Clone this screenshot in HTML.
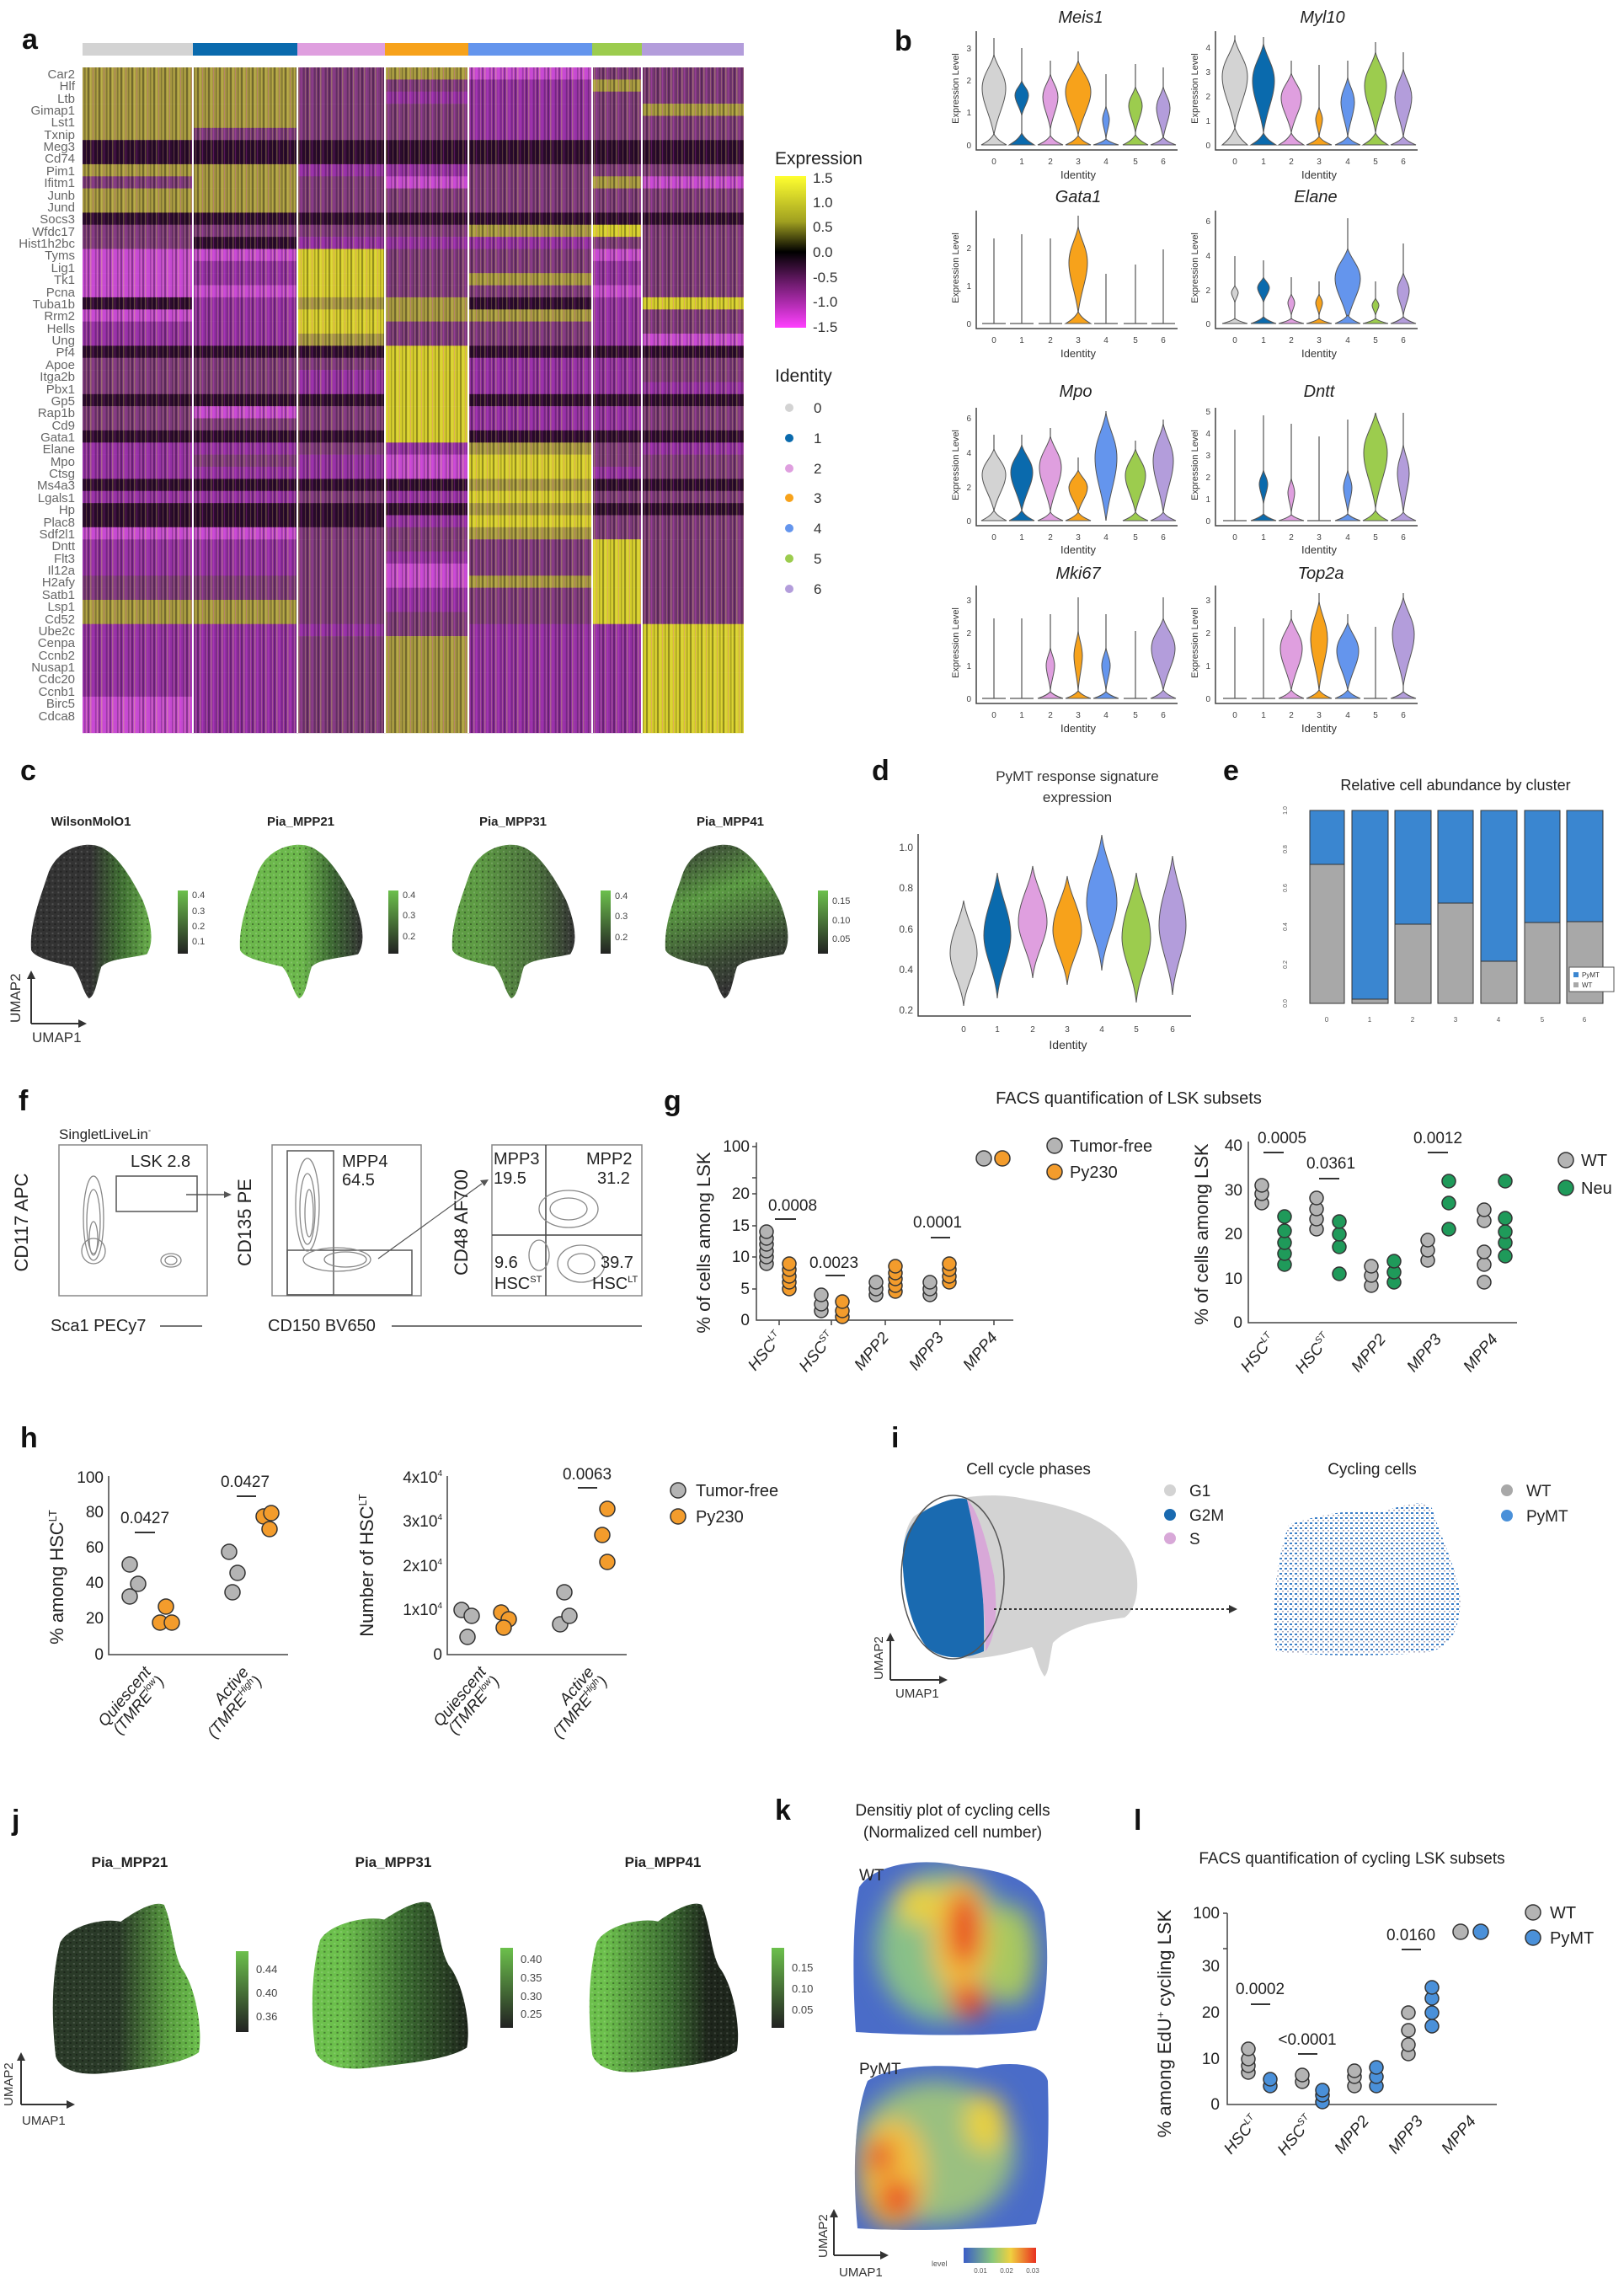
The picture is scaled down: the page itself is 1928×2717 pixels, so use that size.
<!DOCTYPE html>
<html><head><meta charset="utf-8">
<style>
html,body{margin:0;padding:0;background:#fff;}
svg{display:block;font-family:"Liberation Sans",sans-serif;}
.hm rect{height:14.6px}
.c0{x:98px;width:131px}.c1{x:229px;width:124px}.c2{x:353px;width:104px}.c3{x:457px;width:99px}.c4{x:556px;width:147px}.c5{x:703px;width:59px}.c6{x:762px;width:121px}
.Y{fill:#d4cc2c}.y{fill:#a49640}.m{fill:#7c3a7a}.p{fill:#9230a2}.P{fill:#c44ad0}.d{fill:#2e0c30}
.gl{font-size:15px;fill:#666;text-anchor:end}
.tk{font-size:10px;fill:#444}
.ax{stroke:#444;stroke-width:1.5;fill:none}
.v line{stroke:#555;stroke-width:1.2}
.lab{font-size:34px;font-weight:bold;fill:#111}
.nar{font-family:"Liberation Sans Narrow","Liberation Sans",sans-serif}
.g{fill:#b4b4b4;stroke:#333;stroke-width:1.5}
.o{fill:#f39c2c;stroke:#333;stroke-width:1.5}
.gr{fill:#1f9a5a;stroke:#333;stroke-width:1.5}
.bl{fill:#4a90d9;stroke:#333;stroke-width:1.5}
.ct{fill:none;stroke:#888;stroke-width:1.3}
</style></head><body>
<svg width="1928" height="2717" viewBox="0 0 1928 2717" xmlns="http://www.w3.org/2000/svg">
<defs>
<pattern id="stripe" width="13" height="20" patternUnits="userSpaceOnUse">
<rect x="0" y="0" width="2" height="20" fill="#000" opacity="0.3"/>
<rect x="3" y="0" width="1.5" height="20" fill="#ffff60" opacity="0.25"/>
<rect x="6" y="0" width="1" height="20" fill="#ff40ff" opacity="0.2"/>
<rect x="9" y="0" width="1.5" height="20" fill="#000" opacity="0.2"/>
<rect x="11" y="0" width="1" height="20" fill="#ffff60" opacity="0.18"/>
</pattern>
<linearGradient id="expg" x1="0" y1="0" x2="0" y2="1">
<stop offset="0" stop-color="#ffff30"/><stop offset="0.3" stop-color="#a0a020"/><stop offset="0.5" stop-color="#000"/><stop offset="0.7" stop-color="#6a1a6a"/><stop offset="1" stop-color="#ff40ff"/>
</linearGradient>
<linearGradient id="grbar" x1="0" y1="1" x2="0" y2="0"><stop offset="0" stop-color="#222"/><stop offset="1" stop-color="#6cc04c"/></linearGradient>
<path id="bb" stroke="#555" stroke-width="1" vector-effect="non-scaling-stroke" d="M-1,0 C-0.6,-0.25 -0.25,-0.5 0,-1 C0.25,-0.5 0.6,-0.25 1,0Z"/>
<path id="lens" stroke="#555" stroke-width="1" vector-effect="non-scaling-stroke" d="M0,0 C-0.3,-0.25 -1,-0.4 -1,-0.58 C-1,-0.75 -0.25,-0.85 0,-1 C0.25,-0.85 1,-0.75 1,-0.58 C1,-0.4 0.3,-0.25 0,0Z"/>
<path id="dv" stroke="#555" stroke-width="1" vector-effect="non-scaling-stroke" d="M0,0 C-0.15,-0.2 -1,-0.35 -1,-0.5 C-1,-0.68 -0.2,-0.82 0,-1 C0.2,-0.82 1,-0.68 1,-0.5 C1,-0.35 0.15,-0.2 0,0Z"/>
<path id="leaf" d="M20,40 C30,10 60,0 80,5 C100,10 120,40 135,70 C145,95 150,120 140,135 C120,140 95,140 85,150 C80,165 78,185 70,188 C62,180 60,160 50,150 C30,145 5,140 0,130 C-2,100 10,70 20,40Z"/>
<path id="sq" d="M10,50 C20,30 60,20 80,25 C100,10 120,0 130,5 C140,30 140,60 150,80 C165,100 175,150 170,180 C150,195 100,200 60,205 C30,208 10,200 5,185 C0,140 0,90 10,50Z"/>
<linearGradient id="c1g" x1="0" x2="1"><stop offset="0.5" stop-color="#333"/><stop offset="0.75" stop-color="#3f6e32"/><stop offset="1" stop-color="#6ab04c"/></linearGradient>
<linearGradient id="c2g" x1="0" x2="1"><stop offset="0.5" stop-color="#6cb84c"/><stop offset="0.75" stop-color="#3e6a34"/><stop offset="1" stop-color="#333"/></linearGradient>
<linearGradient id="c3g" x1="0" x2="1"><stop offset="0.2" stop-color="#5e9c44"/><stop offset="0.7" stop-color="#4a6e3c"/><stop offset="1" stop-color="#333"/></linearGradient>
<linearGradient id="c4g" x1="0" y1="0" x2="0.3" y2="1"><stop offset="0" stop-color="#333"/><stop offset="0.4" stop-color="#5a9a42"/><stop offset="0.8" stop-color="#3a4a34"/><stop offset="1" stop-color="#333"/></linearGradient>
<linearGradient id="j1g" x1="0" x2="1"><stop offset="0.45" stop-color="#2a3a28"/><stop offset="0.8" stop-color="#5aa040"/><stop offset="1" stop-color="#6cc04c"/></linearGradient>
<linearGradient id="j2g" x1="0" x2="1"><stop offset="0.2" stop-color="#6cc04c"/><stop offset="0.6" stop-color="#3a6a30"/><stop offset="1" stop-color="#1e261c"/></linearGradient>
<linearGradient id="j3g" x1="0" x2="1"><stop offset="0.1" stop-color="#6cc04c"/><stop offset="0.55" stop-color="#3a6a30"/><stop offset="0.8" stop-color="#1e261c"/></linearGradient>
<pattern id="speck" width="7" height="7" patternUnits="userSpaceOnUse"><rect width="2" height="2" fill="#000" opacity="0.35"/><rect x="4" y="4" width="2" height="2" fill="#fff" opacity="0.15"/></pattern>
<pattern id="bdots" width="6" height="6" patternUnits="userSpaceOnUse"><rect x="1" y="1" width="3" height="2" fill="#3a7ec8"/><rect x="4" y="4" width="2" height="1.5" fill="#aab"/></pattern>
<linearGradient id="lvg" x1="0" x2="1"><stop offset="0" stop-color="#3a5cc8"/><stop offset="0.4" stop-color="#8ac87a"/><stop offset="0.65" stop-color="#f0d040"/><stop offset="1" stop-color="#e83020"/></linearGradient>
<filter id="blur" x="-0.3" y="-0.3" width="1.6" height="1.6"><feGaussianBlur stdDeviation="14"/></filter>
<clipPath id="kwt"><path d="M1020,2240 C1040,2210 1100,2205 1140,2215 C1190,2220 1230,2230 1240,2270 C1246,2320 1244,2380 1230,2410 C1180,2418 1080,2416 1016,2412 C1012,2350 1012,2280 1020,2240Z"/></clipPath>
<clipPath id="kpy"><path d="M1030,2470 C1060,2450 1120,2450 1160,2455 C1200,2445 1240,2450 1244,2470 C1246,2540 1244,2600 1230,2640 C1150,2648 1060,2648 1018,2645 C1012,2580 1014,2510 1030,2470Z"/></clipPath>
</defs>

<!-- ===== a ===== -->
<text class="lab" x="26" y="58">a</text>
<rect x="98" y="51" width="131" height="15" fill="#d3d3d3"/>
<rect x="229" y="51" width="124" height="15" fill="#0a6aad"/>
<rect x="353" y="51" width="104" height="15" fill="#df9fdf"/>
<rect x="457" y="51" width="99" height="15" fill="#f7a21b"/>
<rect x="556" y="51" width="147" height="15" fill="#6495ed"/>
<rect x="703" y="51" width="59" height="15" fill="#9ccc4e"/>
<rect x="762" y="51" width="121" height="15" fill="#b39ddb"/>
<g class="hm">
<g transform="translate(0,80)"><rect class="c0 y"/><rect class="c1 y"/><rect class="c2 m"/><rect class="c3 y"/><rect class="c4 P"/><rect class="c5 m"/><rect class="c6 m"/></g>
<g transform="translate(0,94.4)"><rect class="c0 y"/><rect class="c1 y"/><rect class="c2 m"/><rect class="c3 m"/><rect class="c4 p"/><rect class="c5 y"/><rect class="c6 m"/></g>
<g transform="translate(0,108.7)"><rect class="c0 y"/><rect class="c1 y"/><rect class="c2 m"/><rect class="c3 p"/><rect class="c4 p"/><rect class="c5 m"/><rect class="c6 m"/></g>
<g transform="translate(0,123.1)"><rect class="c0 y"/><rect class="c1 y"/><rect class="c2 m"/><rect class="c3 m"/><rect class="c4 p"/><rect class="c5 m"/><rect class="c6 y"/></g>
<g transform="translate(0,137.5)"><rect class="c0 y"/><rect class="c1 y"/><rect class="c2 m"/><rect class="c3 m"/><rect class="c4 p"/><rect class="c5 m"/><rect class="c6 m"/></g>
<g transform="translate(0,151.8)"><rect class="c0 y"/><rect class="c1 m"/><rect class="c2 m"/><rect class="c3 m"/><rect class="c4 p"/><rect class="c5 m"/><rect class="c6 m"/></g>
<g transform="translate(0,166.2)"><rect class="c0 d"/><rect class="c1 d"/><rect class="c2 d"/><rect class="c3 d"/><rect class="c4 d"/><rect class="c5 d"/><rect class="c6 d"/></g>
<g transform="translate(0,180.5)"><rect class="c0 d"/><rect class="c1 d"/><rect class="c2 d"/><rect class="c3 d"/><rect class="c4 d"/><rect class="c5 d"/><rect class="c6 d"/></g>
<g transform="translate(0,194.9)"><rect class="c0 y"/><rect class="c1 y"/><rect class="c2 p"/><rect class="c3 p"/><rect class="c4 m"/><rect class="c5 m"/><rect class="c6 m"/></g>
<g transform="translate(0,209.3)"><rect class="c0 m"/><rect class="c1 y"/><rect class="c2 m"/><rect class="c3 P"/><rect class="c4 m"/><rect class="c5 y"/><rect class="c6 P"/></g>
<g transform="translate(0,223.6)"><rect class="c0 y"/><rect class="c1 y"/><rect class="c2 m"/><rect class="c3 m"/><rect class="c4 m"/><rect class="c5 m"/><rect class="c6 m"/></g>
<g transform="translate(0,238)"><rect class="c0 y"/><rect class="c1 y"/><rect class="c2 m"/><rect class="c3 m"/><rect class="c4 m"/><rect class="c5 m"/><rect class="c6 m"/></g>
<g transform="translate(0,252.4)"><rect class="c0 d"/><rect class="c1 d"/><rect class="c2 d"/><rect class="c3 d"/><rect class="c4 d"/><rect class="c5 d"/><rect class="c6 d"/></g>
<g transform="translate(0,266.7)"><rect class="c0 m"/><rect class="c1 m"/><rect class="c2 m"/><rect class="c3 m"/><rect class="c4 y"/><rect class="c5 Y"/><rect class="c6 m"/></g>
<g transform="translate(0,281.1)"><rect class="c0 m"/><rect class="c1 d"/><rect class="c2 p"/><rect class="c3 p"/><rect class="c4 p"/><rect class="c5 m"/><rect class="c6 m"/></g>
<g transform="translate(0,295.5)"><rect class="c0 P"/><rect class="c1 P"/><rect class="c2 Y"/><rect class="c3 m"/><rect class="c4 m"/><rect class="c5 P"/><rect class="c6 m"/></g>
<g transform="translate(0,309.8)"><rect class="c0 P"/><rect class="c1 p"/><rect class="c2 Y"/><rect class="c3 m"/><rect class="c4 m"/><rect class="c5 p"/><rect class="c6 m"/></g>
<g transform="translate(0,324.2)"><rect class="c0 P"/><rect class="c1 p"/><rect class="c2 Y"/><rect class="c3 m"/><rect class="c4 y"/><rect class="c5 p"/><rect class="c6 m"/></g>
<g transform="translate(0,338.6)"><rect class="c0 P"/><rect class="c1 P"/><rect class="c2 Y"/><rect class="c3 m"/><rect class="c4 m"/><rect class="c5 P"/><rect class="c6 m"/></g>
<g transform="translate(0,352.9)"><rect class="c0 d"/><rect class="c1 p"/><rect class="c2 y"/><rect class="c3 y"/><rect class="c4 d"/><rect class="c5 p"/><rect class="c6 Y"/></g>
<g transform="translate(0,367.3)"><rect class="c0 P"/><rect class="c1 p"/><rect class="c2 Y"/><rect class="c3 y"/><rect class="c4 y"/><rect class="c5 p"/><rect class="c6 m"/></g>
<g transform="translate(0,381.6)"><rect class="c0 p"/><rect class="c1 p"/><rect class="c2 Y"/><rect class="c3 m"/><rect class="c4 m"/><rect class="c5 p"/><rect class="c6 m"/></g>
<g transform="translate(0,396)"><rect class="c0 p"/><rect class="c1 p"/><rect class="c2 y"/><rect class="c3 m"/><rect class="c4 m"/><rect class="c5 p"/><rect class="c6 P"/></g>
<g transform="translate(0,410.4)"><rect class="c0 d"/><rect class="c1 d"/><rect class="c2 d"/><rect class="c3 Y"/><rect class="c4 d"/><rect class="c5 d"/><rect class="c6 d"/></g>
<g transform="translate(0,424.7)"><rect class="c0 m"/><rect class="c1 m"/><rect class="c2 m"/><rect class="c3 Y"/><rect class="c4 p"/><rect class="c5 p"/><rect class="c6 m"/></g>
<g transform="translate(0,439.1)"><rect class="c0 m"/><rect class="c1 m"/><rect class="c2 p"/><rect class="c3 Y"/><rect class="c4 p"/><rect class="c5 p"/><rect class="c6 m"/></g>
<g transform="translate(0,453.5)"><rect class="c0 m"/><rect class="c1 m"/><rect class="c2 p"/><rect class="c3 Y"/><rect class="c4 p"/><rect class="c5 p"/><rect class="c6 p"/></g>
<g transform="translate(0,467.8)"><rect class="c0 d"/><rect class="c1 d"/><rect class="c2 d"/><rect class="c3 Y"/><rect class="c4 d"/><rect class="c5 d"/><rect class="c6 d"/></g>
<g transform="translate(0,482.2)"><rect class="c0 m"/><rect class="c1 P"/><rect class="c2 m"/><rect class="c3 Y"/><rect class="c4 p"/><rect class="c5 p"/><rect class="c6 m"/></g>
<g transform="translate(0,496.5)"><rect class="c0 m"/><rect class="c1 m"/><rect class="c2 m"/><rect class="c3 Y"/><rect class="c4 p"/><rect class="c5 p"/><rect class="c6 m"/></g>
<g transform="translate(0,510.9)"><rect class="c0 d"/><rect class="c1 d"/><rect class="c2 d"/><rect class="c3 Y"/><rect class="c4 d"/><rect class="c5 d"/><rect class="c6 d"/></g>
<g transform="translate(0,525.3)"><rect class="c0 p"/><rect class="c1 p"/><rect class="c2 m"/><rect class="c3 p"/><rect class="c4 y"/><rect class="c5 m"/><rect class="c6 p"/></g>
<g transform="translate(0,539.6)"><rect class="c0 p"/><rect class="c1 m"/><rect class="c2 p"/><rect class="c3 P"/><rect class="c4 Y"/><rect class="c5 m"/><rect class="c6 m"/></g>
<g transform="translate(0,554)"><rect class="c0 p"/><rect class="c1 p"/><rect class="c2 p"/><rect class="c3 P"/><rect class="c4 Y"/><rect class="c5 p"/><rect class="c6 m"/></g>
<g transform="translate(0,568.4)"><rect class="c0 d"/><rect class="c1 d"/><rect class="c2 d"/><rect class="c3 d"/><rect class="c4 y"/><rect class="c5 d"/><rect class="c6 d"/></g>
<g transform="translate(0,582.7)"><rect class="c0 p"/><rect class="c1 p"/><rect class="c2 m"/><rect class="c3 p"/><rect class="c4 Y"/><rect class="c5 m"/><rect class="c6 m"/></g>
<g transform="translate(0,597.1)"><rect class="c0 d"/><rect class="c1 d"/><rect class="c2 d"/><rect class="c3 d"/><rect class="c4 y"/><rect class="c5 d"/><rect class="c6 d"/></g>
<g transform="translate(0,611.5)"><rect class="c0 d"/><rect class="c1 d"/><rect class="c2 d"/><rect class="c3 p"/><rect class="c4 Y"/><rect class="c5 m"/><rect class="c6 m"/></g>
<g transform="translate(0,625.8)"><rect class="c0 P"/><rect class="c1 P"/><rect class="c2 m"/><rect class="c3 m"/><rect class="c4 y"/><rect class="c5 m"/><rect class="c6 m"/></g>
<g transform="translate(0,640.2)"><rect class="c0 p"/><rect class="c1 p"/><rect class="c2 m"/><rect class="c3 m"/><rect class="c4 m"/><rect class="c5 Y"/><rect class="c6 m"/></g>
<g transform="translate(0,654.5)"><rect class="c0 p"/><rect class="c1 p"/><rect class="c2 m"/><rect class="c3 p"/><rect class="c4 m"/><rect class="c5 Y"/><rect class="c6 m"/></g>
<g transform="translate(0,668.9)"><rect class="c0 p"/><rect class="c1 p"/><rect class="c2 m"/><rect class="c3 P"/><rect class="c4 m"/><rect class="c5 Y"/><rect class="c6 m"/></g>
<g transform="translate(0,683.3)"><rect class="c0 m"/><rect class="c1 m"/><rect class="c2 m"/><rect class="c3 P"/><rect class="c4 y"/><rect class="c5 Y"/><rect class="c6 m"/></g>
<g transform="translate(0,697.6)"><rect class="c0 m"/><rect class="c1 m"/><rect class="c2 m"/><rect class="c3 p"/><rect class="c4 m"/><rect class="c5 Y"/><rect class="c6 m"/></g>
<g transform="translate(0,712)"><rect class="c0 y"/><rect class="c1 y"/><rect class="c2 m"/><rect class="c3 p"/><rect class="c4 m"/><rect class="c5 Y"/><rect class="c6 m"/></g>
<g transform="translate(0,726.4)"><rect class="c0 y"/><rect class="c1 y"/><rect class="c2 m"/><rect class="c3 m"/><rect class="c4 m"/><rect class="c5 Y"/><rect class="c6 m"/></g>
<g transform="translate(0,740.7)"><rect class="c0 p"/><rect class="c1 p"/><rect class="c2 p"/><rect class="c3 m"/><rect class="c4 p"/><rect class="c5 p"/><rect class="c6 Y"/></g>
<g transform="translate(0,755.1)"><rect class="c0 p"/><rect class="c1 p"/><rect class="c2 m"/><rect class="c3 y"/><rect class="c4 p"/><rect class="c5 p"/><rect class="c6 Y"/></g>
<g transform="translate(0,769.5)"><rect class="c0 p"/><rect class="c1 p"/><rect class="c2 m"/><rect class="c3 y"/><rect class="c4 p"/><rect class="c5 p"/><rect class="c6 Y"/></g>
<g transform="translate(0,783.8)"><rect class="c0 p"/><rect class="c1 p"/><rect class="c2 m"/><rect class="c3 y"/><rect class="c4 p"/><rect class="c5 p"/><rect class="c6 Y"/></g>
<g transform="translate(0,798.2)"><rect class="c0 p"/><rect class="c1 p"/><rect class="c2 m"/><rect class="c3 y"/><rect class="c4 p"/><rect class="c5 p"/><rect class="c6 Y"/></g>
<g transform="translate(0,812.5)"><rect class="c0 p"/><rect class="c1 p"/><rect class="c2 m"/><rect class="c3 y"/><rect class="c4 p"/><rect class="c5 p"/><rect class="c6 Y"/></g>
<g transform="translate(0,826.9)"><rect class="c0 P"/><rect class="c1 p"/><rect class="c2 m"/><rect class="c3 y"/><rect class="c4 p"/><rect class="c5 p"/><rect class="c6 Y"/></g>
<g transform="translate(0,841.3)"><rect class="c0 P"/><rect class="c1 p"/><rect class="c2 m"/><rect class="c3 y"/><rect class="c4 p"/><rect class="c5 p"/><rect class="c6 Y"/></g>
<g transform="translate(0,855.6)"><rect class="c0 P"/><rect class="c1 p"/><rect class="c2 m"/><rect class="c3 y"/><rect class="c4 p"/><rect class="c5 p"/><rect class="c6 Y"/></g>
</g>
<rect x="98" y="80" width="785" height="790" fill="url(#stripe)"/>
<g stroke="#fff" stroke-width="2"><line x1="229" y1="80" x2="229" y2="870"/><line x1="353" y1="80" x2="353" y2="870"/><line x1="457" y1="80" x2="457" y2="870"/><line x1="556" y1="80" x2="556" y2="870"/><line x1="703" y1="80" x2="703" y2="870"/><line x1="762" y1="80" x2="762" y2="870"/></g>
<g class="gl nar">
<text x="89" y="93">Car2</text><text x="89" y="107">Hlf</text><text x="89" y="122">Ltb</text><text x="89" y="136">Gimap1</text><text x="89" y="150">Lst1</text><text x="89" y="165">Txnip</text><text x="89" y="179">Meg3</text><text x="89" y="193">Cd74</text><text x="89" y="208">Pim1</text><text x="89" y="222">Ifitm1</text><text x="89" y="237">Junb</text><text x="89" y="251">Jund</text><text x="89" y="265">Socs3</text><text x="89" y="280">Wfdc17</text><text x="89" y="294">Hist1h2bc</text><text x="89" y="308">Tyms</text><text x="89" y="323">Lig1</text><text x="89" y="337">Tk1</text><text x="89" y="352">Pcna</text><text x="89" y="366">Tuba1b</text><text x="89" y="380">Rrm2</text><text x="89" y="395">Hells</text><text x="89" y="409">Ung</text><text x="89" y="423">Pf4</text><text x="89" y="438">Apoe</text><text x="89" y="452">Itga2b</text><text x="89" y="467">Pbx1</text><text x="89" y="481">Gp5</text><text x="89" y="495">Rap1b</text><text x="89" y="510">Cd9</text><text x="89" y="524">Gata1</text><text x="89" y="538">Elane</text><text x="89" y="553">Mpo</text><text x="89" y="567">Ctsg</text><text x="89" y="581">Ms4a3</text><text x="89" y="596">Lgals1</text><text x="89" y="610">Hp</text><text x="89" y="625">Plac8</text><text x="89" y="639">Sdf2l1</text><text x="89" y="653">Dntt</text><text x="89" y="668">Flt3</text><text x="89" y="682">Il12a</text><text x="89" y="696">H2afy</text><text x="89" y="711">Satb1</text><text x="89" y="725">Lsp1</text><text x="89" y="740">Cd52</text><text x="89" y="754">Ube2c</text><text x="89" y="768">Cenpa</text><text x="89" y="783">Ccnb2</text><text x="89" y="797">Nusap1</text><text x="89" y="811">Cdc20</text><text x="89" y="826">Ccnb1</text><text x="89" y="840">Birc5</text><text x="89" y="855">Cdca8</text>
</g>
<text x="920" y="195" font-size="21" fill="#222">Expression</text>
<rect x="920" y="209" width="37" height="180" fill="url(#expg)"/>
<g font-size="17" fill="#333"><text x="965" y="217">1.5</text><text x="965" y="246">1.0</text><text x="965" y="275">0.5</text><text x="965" y="305">0.0</text><text x="965" y="335">-0.5</text><text x="965" y="364">-1.0</text><text x="965" y="394">-1.5</text></g>
<text x="920" y="453" font-size="21" fill="#222">Identity</text>
<g><circle cx="937" cy="484" r="5" fill="#d3d3d3"/><circle cx="937" cy="520" r="5" fill="#0a6aad"/><circle cx="937" cy="556" r="5" fill="#df9fdf"/><circle cx="937" cy="591" r="5" fill="#f7a21b"/><circle cx="937" cy="627" r="5" fill="#6495ed"/><circle cx="937" cy="663" r="5" fill="#9ccc4e"/><circle cx="937" cy="699" r="5" fill="#b39ddb"/></g>
<g font-size="17" fill="#333"><text x="966" y="490">0</text><text x="966" y="526">1</text><text x="966" y="562">2</text><text x="966" y="597">3</text><text x="966" y="633">4</text><text x="966" y="669">5</text><text x="966" y="705">6</text></g>

<!-- ===== b ===== -->
<text class="lab" x="1062" y="60">b</text>
<g class="ax">
<path d="M1159,37 V178 H1398"/><path d="M1443,37 V178 H1683"/>
<path d="M1159,250 V390 H1398"/><path d="M1443,250 V390 H1683"/>
<path d="M1159,484 V624 H1398"/><path d="M1443,484 V624 H1683"/>
<path d="M1159,695 V835 H1398"/><path d="M1443,695 V835 H1683"/>
</g>
<g font-size="20" font-style="italic" fill="#222" text-anchor="middle">
<text x="1283" y="27">Meis1</text><text x="1570" y="27">Myl10</text>
<text x="1280" y="240">Gata1</text><text x="1562" y="240">Elane</text>
<text x="1277" y="471">Mpo</text><text x="1566" y="471">Dntt</text>
<text x="1280" y="687">Mki67</text><text x="1568" y="687">Top2a</text>
</g>
<g font-size="13" fill="#333" text-anchor="middle">
<text x="1280" y="212">Identity</text><text x="1566" y="212">Identity</text>
<text x="1280" y="424">Identity</text><text x="1566" y="424">Identity</text>
<text x="1280" y="657">Identity</text><text x="1566" y="657">Identity</text>
<text x="1280" y="869">Identity</text><text x="1566" y="869">Identity</text>
</g>
<g font-size="11" fill="#333" text-anchor="middle">
<text transform="translate(1138,105) rotate(-90)">Expression Level</text><text transform="translate(1422,105) rotate(-90)">Expression Level</text>
<text transform="translate(1138,318) rotate(-90)">Expression Level</text><text transform="translate(1422,318) rotate(-90)">Expression Level</text>
<text transform="translate(1138,552) rotate(-90)">Expression Level</text><text transform="translate(1422,552) rotate(-90)">Expression Level</text>
<text transform="translate(1138,763) rotate(-90)">Expression Level</text><text transform="translate(1422,763) rotate(-90)">Expression Level</text>
</g>
<g class="tk" text-anchor="middle">
<g transform="translate(0,195)"><text x="1180">0</text><text x="1213">1</text><text x="1247">2</text><text x="1280">3</text><text x="1313">4</text><text x="1348">5</text><text x="1381">6</text><text x="1466">0</text><text x="1500">1</text><text x="1533">2</text><text x="1566">3</text><text x="1600">4</text><text x="1633">5</text><text x="1666">6</text></g>
<g transform="translate(0,407)"><text x="1180">0</text><text x="1213">1</text><text x="1247">2</text><text x="1280">3</text><text x="1313">4</text><text x="1348">5</text><text x="1381">6</text><text x="1466">0</text><text x="1500">1</text><text x="1533">2</text><text x="1566">3</text><text x="1600">4</text><text x="1633">5</text><text x="1666">6</text></g>
<g transform="translate(0,641)"><text x="1180">0</text><text x="1213">1</text><text x="1247">2</text><text x="1280">3</text><text x="1313">4</text><text x="1348">5</text><text x="1381">6</text><text x="1466">0</text><text x="1500">1</text><text x="1533">2</text><text x="1566">3</text><text x="1600">4</text><text x="1633">5</text><text x="1666">6</text></g>
<g transform="translate(0,852)"><text x="1180">0</text><text x="1213">1</text><text x="1247">2</text><text x="1280">3</text><text x="1313">4</text><text x="1348">5</text><text x="1381">6</text><text x="1466">0</text><text x="1500">1</text><text x="1533">2</text><text x="1566">3</text><text x="1600">4</text><text x="1633">5</text><text x="1666">6</text></g>
</g>
<g class="tk" text-anchor="end">
<text x="1153" y="176">0</text><text x="1153" y="137">1</text><text x="1153" y="99">2</text><text x="1153" y="61">3</text>
<text x="1437" y="176">0</text><text x="1437" y="147">1</text><text x="1437" y="118">2</text><text x="1437" y="89">3</text><text x="1437" y="60">4</text>
<text x="1153" y="388">0</text><text x="1153" y="343">1</text><text x="1153" y="298">2</text>
<text x="1437" y="388">0</text><text x="1437" y="348">2</text><text x="1437" y="307">4</text><text x="1437" y="266">6</text>
<text x="1153" y="622">0</text><text x="1153" y="582">2</text><text x="1153" y="541">4</text><text x="1153" y="500">6</text>
<text x="1437" y="622">0</text><text x="1437" y="596">1</text><text x="1437" y="570">2</text><text x="1437" y="544">3</text><text x="1437" y="518">4</text><text x="1437" y="492">5</text>
<text x="1153" y="833">0</text><text x="1153" y="794">1</text><text x="1153" y="755">2</text><text x="1153" y="716">3</text>
<text x="1437" y="833">0</text><text x="1437" y="794">1</text><text x="1437" y="755">2</text><text x="1437" y="716">3</text>
</g>
<g class="v">
<g fill="#d3d3d3"><line x1="1180" y1="172" x2="1180" y2="45"/><use href="#lens" transform="translate(1180,160) scale(14,95)"/><use href="#bb" transform="translate(1180,172) scale(15,13)"/></g>
<g fill="#0a6aad"><line x1="1213" y1="172" x2="1213" y2="57"/><use href="#lens" transform="translate(1213,137) scale(8,41)"/><use href="#bb" transform="translate(1213,172) scale(15,14)"/></g>
<g fill="#df9fdf"><line x1="1247" y1="172" x2="1247" y2="72"/><use href="#lens" transform="translate(1247,153) scale(9,65)"/><use href="#bb" transform="translate(1247,172) scale(15,11)"/></g>
<g fill="#f7a21b"><line x1="1280" y1="172" x2="1280" y2="61"/><use href="#lens" transform="translate(1280,160) scale(15,88)"/><use href="#bb" transform="translate(1280,172) scale(15,11)"/></g>
<g fill="#6495ed"><line x1="1313" y1="172" x2="1313" y2="88"/><use href="#lens" transform="translate(1313,164) scale(4,38)"/><use href="#bb" transform="translate(1313,172) scale(15,7)"/></g>
<g fill="#9ccc4e"><line x1="1348" y1="172" x2="1348" y2="76"/><use href="#lens" transform="translate(1348,157) scale(8,54)"/><use href="#bb" transform="translate(1348,172) scale(15,12)"/></g>
<g fill="#b39ddb"><line x1="1381" y1="172" x2="1381" y2="80"/><use href="#lens" transform="translate(1381,164) scale(8,61)"/><use href="#bb" transform="translate(1381,172) scale(15,9)"/></g>
<g fill="#d3d3d3"><line x1="1466" y1="172" x2="1466" y2="42"/><use href="#lens" transform="translate(1466,152) scale(15,105)"/><use href="#bb" transform="translate(1466,172) scale(15,20)"/></g>
<g fill="#0a6aad"><line x1="1500" y1="172" x2="1500" y2="44"/><use href="#lens" transform="translate(1500,157) scale(13,105)"/><use href="#bb" transform="translate(1500,172) scale(15,14)"/></g>
<g fill="#df9fdf"><line x1="1533" y1="172" x2="1533" y2="72"/><use href="#lens" transform="translate(1533,157) scale(12,70)"/><use href="#bb" transform="translate(1533,172) scale(15,14)"/></g>
<g fill="#f7a21b"><line x1="1566" y1="172" x2="1566" y2="77"/><use href="#lens" transform="translate(1566,162) scale(4,35)"/><use href="#bb" transform="translate(1566,172) scale(15,10)"/></g>
<g fill="#6495ed"><line x1="1600" y1="172" x2="1600" y2="72"/><use href="#lens" transform="translate(1600,162) scale(8,70)"/><use href="#bb" transform="translate(1600,172) scale(15,10)"/></g>
<g fill="#9ccc4e"><line x1="1633" y1="172" x2="1633" y2="50"/><use href="#lens" transform="translate(1633,157) scale(13,95)"/><use href="#bb" transform="translate(1633,172) scale(15,14)"/></g>
<g fill="#b39ddb"><line x1="1666" y1="172" x2="1666" y2="62"/><use href="#lens" transform="translate(1666,162) scale(10,80)"/><use href="#bb" transform="translate(1666,172) scale(15,10)"/></g>
<g><line x1="1180" y1="384" x2="1180" y2="283"/><line x1="1166" y1="384" x2="1194" y2="384"/>
<line x1="1213" y1="384" x2="1213" y2="278"/><line x1="1199" y1="384" x2="1227" y2="384"/>
<line x1="1247" y1="384" x2="1247" y2="283"/><line x1="1233" y1="384" x2="1261" y2="384"/>
<line x1="1313" y1="384" x2="1313" y2="325"/><line x1="1299" y1="384" x2="1327" y2="384"/>
<line x1="1348" y1="384" x2="1348" y2="314"/><line x1="1334" y1="384" x2="1362" y2="384"/>
<line x1="1381" y1="384" x2="1381" y2="296"/><line x1="1367" y1="384" x2="1395" y2="384"/></g>
<g fill="#f7a21b"><line x1="1280" y1="384" x2="1280" y2="256"/><use href="#lens" transform="translate(1280,371) scale(11,102)"/><use href="#bb" transform="translate(1280,384) scale(15,14)"/></g>
<g fill="#d3d3d3"><line x1="1466" y1="384" x2="1466" y2="304"/><use href="#lens" transform="translate(1466,359) scale(4,20)"/><use href="#bb" transform="translate(1466,384) scale(15,6)"/></g>
<g fill="#0a6aad"><line x1="1500" y1="384" x2="1500" y2="309"/><use href="#lens" transform="translate(1500,359) scale(7,30)"/><use href="#bb" transform="translate(1500,384) scale(15,8)"/></g>
<g fill="#df9fdf"><line x1="1533" y1="384" x2="1533" y2="329"/><use href="#lens" transform="translate(1533,374) scale(4,25)"/><use href="#bb" transform="translate(1533,384) scale(15,6)"/></g>
<g fill="#f7a21b"><line x1="1566" y1="384" x2="1566" y2="334"/><use href="#lens" transform="translate(1566,374) scale(4,25)"/><use href="#bb" transform="translate(1566,384) scale(15,6)"/></g>
<g fill="#6495ed"><line x1="1600" y1="384" x2="1600" y2="259"/><use href="#lens" transform="translate(1600,380) scale(15,85)"/><use href="#bb" transform="translate(1600,384) scale(15,10)"/></g>
<g fill="#9ccc4e"><line x1="1633" y1="384" x2="1633" y2="334"/><use href="#lens" transform="translate(1633,374) scale(4,20)"/><use href="#bb" transform="translate(1633,384) scale(15,6)"/></g>
<g fill="#b39ddb"><line x1="1666" y1="384" x2="1666" y2="289"/><use href="#lens" transform="translate(1666,374) scale(7,50)"/><use href="#bb" transform="translate(1666,384) scale(15,8)"/></g>
<g fill="#d3d3d3"><line x1="1180" y1="618" x2="1180" y2="516"/><use href="#lens" transform="translate(1180,606) scale(14,73)"/><use href="#bb" transform="translate(1180,618) scale(15,12)"/></g>
<g fill="#0a6aad"><line x1="1213" y1="618" x2="1213" y2="516"/><use href="#lens" transform="translate(1213,606) scale(13,78)"/><use href="#bb" transform="translate(1213,618) scale(15,12)"/></g>
<g fill="#df9fdf"><line x1="1247" y1="618" x2="1247" y2="508"/><use href="#lens" transform="translate(1247,606) scale(13,88)"/><use href="#bb" transform="translate(1247,618) scale(15,10)"/></g>
<g fill="#f7a21b"><line x1="1280" y1="618" x2="1280" y2="543"/><use href="#lens" transform="translate(1280,608) scale(11,50)"/><use href="#bb" transform="translate(1280,618) scale(15,10)"/></g>
<g fill="#6495ed"><line x1="1313" y1="618" x2="1313" y2="488"/><use href="#lens" transform="translate(1313,618) scale(13,128)"/></g>
<g fill="#9ccc4e"><line x1="1348" y1="618" x2="1348" y2="523"/><use href="#lens" transform="translate(1348,608) scale(12,75)"/><use href="#bb" transform="translate(1348,618) scale(15,10)"/></g>
<g fill="#b39ddb"><line x1="1381" y1="618" x2="1381" y2="498"/><use href="#lens" transform="translate(1381,608) scale(12,105)"/><use href="#bb" transform="translate(1381,618) scale(15,10)"/></g>
<g><line x1="1466" y1="618" x2="1466" y2="510"/><line x1="1452" y1="618" x2="1480" y2="618"/><line x1="1566" y1="618" x2="1566" y2="518"/><line x1="1552" y1="618" x2="1580" y2="618"/></g>
<g fill="#0a6aad"><line x1="1500" y1="618" x2="1500" y2="493"/><use href="#lens" transform="translate(1500,598) scale(5,40)"/><use href="#bb" transform="translate(1500,618) scale(15,8)"/></g>
<g fill="#df9fdf"><line x1="1533" y1="618" x2="1533" y2="503"/><use href="#lens" transform="translate(1533,608) scale(4,40)"/><use href="#bb" transform="translate(1533,618) scale(15,7)"/></g>
<g fill="#6495ed"><line x1="1600" y1="618" x2="1600" y2="498"/><use href="#lens" transform="translate(1600,608) scale(5,50)"/><use href="#bb" transform="translate(1600,618) scale(15,8)"/></g>
<g fill="#9ccc4e"><line x1="1633" y1="618" x2="1633" y2="490"/><use href="#lens" transform="translate(1633,603) scale(14,113)"/><use href="#bb" transform="translate(1633,618) scale(15,12)"/></g>
<g fill="#b39ddb"><line x1="1666" y1="618" x2="1666" y2="490"/><use href="#lens" transform="translate(1666,608) scale(7,80)"/><use href="#bb" transform="translate(1666,618) scale(15,10)"/></g>
<g><line x1="1180" y1="829" x2="1180" y2="734"/><line x1="1166" y1="829" x2="1194" y2="829"/><line x1="1213" y1="829" x2="1213" y2="734"/><line x1="1199" y1="829" x2="1227" y2="829"/><line x1="1348" y1="829" x2="1348" y2="749"/><line x1="1334" y1="829" x2="1362" y2="829"/></g>
<g fill="#df9fdf"><line x1="1247" y1="829" x2="1247" y2="729"/><use href="#lens" transform="translate(1247,819) scale(5,50)"/><use href="#bb" transform="translate(1247,829) scale(15,8)"/></g>
<g fill="#f7a21b"><line x1="1280" y1="829" x2="1280" y2="709"/><use href="#lens" transform="translate(1280,819) scale(5,70)"/><use href="#bb" transform="translate(1280,829) scale(15,9)"/></g>
<g fill="#6495ed"><line x1="1313" y1="829" x2="1313" y2="729"/><use href="#lens" transform="translate(1313,819) scale(5,50)"/><use href="#bb" transform="translate(1313,829) scale(15,8)"/></g>
<g fill="#b39ddb"><line x1="1381" y1="829" x2="1381" y2="709"/><use href="#lens" transform="translate(1381,819) scale(14,85)"/><use href="#bb" transform="translate(1381,829) scale(15,10)"/></g>
<g><line x1="1466" y1="829" x2="1466" y2="744"/><line x1="1452" y1="829" x2="1480" y2="829"/><line x1="1500" y1="829" x2="1500" y2="734"/><line x1="1486" y1="829" x2="1514" y2="829"/><line x1="1633" y1="829" x2="1633" y2="744"/><line x1="1619" y1="829" x2="1647" y2="829"/></g>
<g fill="#df9fdf"><line x1="1533" y1="829" x2="1533" y2="724"/><use href="#lens" transform="translate(1533,819) scale(13,85)"/><use href="#bb" transform="translate(1533,829) scale(15,10)"/></g>
<g fill="#f7a21b"><line x1="1566" y1="829" x2="1566" y2="704"/><use href="#lens" transform="translate(1566,819) scale(10,105)"/><use href="#bb" transform="translate(1566,829) scale(15,10)"/></g>
<g fill="#6495ed"><line x1="1600" y1="829" x2="1600" y2="729"/><use href="#lens" transform="translate(1600,819) scale(13,80)"/><use href="#bb" transform="translate(1600,829) scale(15,10)"/></g>
<g fill="#b39ddb"><line x1="1666" y1="829" x2="1666" y2="704"/><use href="#lens" transform="translate(1666,814) scale(13,105)"/><use href="#bb" transform="translate(1666,829) scale(15,8)"/></g>
</g>

<!-- ===== c ===== -->
<text class="lab" x="24" y="926">c</text>
<g font-size="15" font-weight="bold" fill="#222" text-anchor="middle">
<text x="108" y="980">WilsonMolO1</text><text x="357" y="980">Pia_MPP21</text><text x="609" y="980">Pia_MPP31</text><text x="867" y="980">Pia_MPP41</text></g>
<g transform="translate(37,999) scale(0.98,0.99)"><use href="#leaf" fill="url(#c1g)"/><use href="#leaf" fill="url(#speck)"/></g>
<g transform="translate(285,999) scale(1.0,0.99)"><use href="#leaf" fill="url(#c2g)"/><use href="#leaf" fill="url(#speck)"/></g>
<g transform="translate(537,999) scale(1.0,0.99)"><use href="#leaf" fill="url(#c3g)"/><use href="#leaf" fill="url(#speck)"/></g>
<g transform="translate(790,999) scale(1.0,0.99)"><use href="#leaf" fill="url(#c4g)"/><use href="#leaf" fill="url(#speck)"/></g>
<rect x="211" y="1057" width="12" height="75" fill="url(#grbar)"/><rect x="461" y="1057" width="12" height="75" fill="url(#grbar)"/><rect x="713" y="1057" width="12" height="75" fill="url(#grbar)"/><rect x="971" y="1057" width="12" height="75" fill="url(#grbar)"/>
<g font-size="11" fill="#444">
<text x="228" y="1066">0.4</text><text x="228" y="1085">0.3</text><text x="228" y="1103">0.2</text><text x="228" y="1121">0.1</text>
<text x="478" y="1066">0.4</text><text x="478" y="1090">0.3</text><text x="478" y="1115">0.2</text>
<text x="730" y="1067">0.4</text><text x="730" y="1091">0.3</text><text x="730" y="1116">0.2</text>
<text x="988" y="1073">0.15</text><text x="988" y="1096">0.10</text><text x="988" y="1118">0.05</text></g>
<g stroke="#333" stroke-width="2" fill="none"><path d="M37,1215 V1160"/><path d="M37,1215 H95"/></g>
<path d="M37,1152 l-5,10 h10z M103,1215 l-10,-5 v10z" fill="#333"/>
<text transform="translate(24,1214) rotate(-90)" font-size="17" fill="#333">UMAP2</text>
<text x="38" y="1237" font-size="17" fill="#333">UMAP1</text>

<!-- ===== d ===== -->
<text class="lab" x="1035" y="926">d</text>
<g font-size="17" fill="#333" text-anchor="middle"><text x="1279" y="927">PyMT response signature</text><text x="1279" y="952">expression</text></g>
<path class="ax" d="M1090,990 V1206 H1414"/>
<g font-size="12" fill="#444" text-anchor="end"><text x="1084" y="1010">1.0</text><text x="1084" y="1058">0.8</text><text x="1084" y="1107">0.6</text><text x="1084" y="1155">0.4</text><text x="1084" y="1203">0.2</text></g>
<g>
<use href="#dv" transform="translate(1144,1194) scale(16,125)" fill="#d3d3d3"/>
<use href="#dv" transform="translate(1184,1185) scale(16,149)" fill="#0a6aad"/>
<use href="#dv" transform="translate(1226,1161) scale(17,133)" fill="#df9fdf"/>
<use href="#dv" transform="translate(1267,1169) scale(17,129)" fill="#f7a21b"/>
<use href="#dv" transform="translate(1308,1152) scale(18,161)" fill="#6495ed"/>
<use href="#dv" transform="translate(1349,1190) scale(17,154)" fill="#9ccc4e"/>
<use href="#dv" transform="translate(1392,1181) scale(16,165)" fill="#b39ddb"/>
</g>
<g class="tk" font-size="11" text-anchor="middle"><text x="1144" y="1225">0</text><text x="1184" y="1225">1</text><text x="1226" y="1225">2</text><text x="1267" y="1225">3</text><text x="1308" y="1225">4</text><text x="1349" y="1225">5</text><text x="1392" y="1225">6</text></g>
<text x="1268" y="1245" font-size="14" fill="#333" text-anchor="middle">Identity</text>

<!-- ===== e ===== -->
<text class="lab" x="1452" y="926">e</text>
<text x="1728" y="938" font-size="18" fill="#222" text-anchor="middle">Relative cell abundance by cluster</text>
<g stroke="#333" stroke-width="1">
<rect x="1555" y="962" width="41" height="229" fill="#3a86d0"/><rect x="1555" y="1026" width="41" height="165" fill="#a8a8a8"/>
<rect x="1605" y="962" width="43" height="229" fill="#3a86d0"/><rect x="1605" y="1186" width="43" height="5" fill="#a8a8a8"/>
<rect x="1656" y="962" width="43" height="229" fill="#3a86d0"/><rect x="1656" y="1097" width="43" height="94" fill="#a8a8a8"/>
<rect x="1707" y="962" width="42" height="229" fill="#3a86d0"/><rect x="1707" y="1072" width="42" height="119" fill="#a8a8a8"/>
<rect x="1758" y="962" width="43" height="229" fill="#3a86d0"/><rect x="1758" y="1141" width="43" height="50" fill="#a8a8a8"/>
<rect x="1810" y="962" width="42" height="229" fill="#3a86d0"/><rect x="1810" y="1095" width="42" height="96" fill="#a8a8a8"/>
<rect x="1860" y="962" width="43" height="229" fill="#3a86d0"/><rect x="1860" y="1094" width="43" height="97" fill="#a8a8a8"/>
</g>
<g font-size="7" fill="#555" text-anchor="middle"><text transform="translate(1528,962) rotate(-90)">1.0</text><text transform="translate(1528,1008) rotate(-90)">0.8</text><text transform="translate(1528,1054) rotate(-90)">0.6</text><text transform="translate(1528,1100) rotate(-90)">0.4</text><text transform="translate(1528,1145) rotate(-90)">0.2</text><text transform="translate(1528,1191) rotate(-90)">0.0</text></g>
<g font-size="8" fill="#555" text-anchor="middle"><text x="1575" y="1213">0</text><text x="1626" y="1213">1</text><text x="1677" y="1213">2</text><text x="1728" y="1213">3</text><text x="1779" y="1213">4</text><text x="1831" y="1213">5</text><text x="1881" y="1213">6</text></g>
<rect x="1863" y="1148" width="53" height="29" fill="#fff" stroke="#555"/>
<rect x="1868" y="1154" width="6" height="6" fill="#3a86d0"/><rect x="1868" y="1166" width="6" height="6" fill="#a8a8a8"/>
<text x="1878" y="1160" font-size="8" fill="#333">PyMT</text><text x="1878" y="1172" font-size="8" fill="#333">WT</text>

<!-- ===== f ===== -->
<text class="lab" x="22" y="1318">f</text>
<text x="70" y="1352" font-size="17" fill="#222" class="nar">SingletLiveLin<tspan font-size="10" dy="-7">-</tspan></text>
<g stroke="#888" stroke-width="1.5" fill="none"><rect x="70" y="1359" width="176" height="179"/><rect x="323" y="1359" width="177" height="179"/><rect x="584" y="1359" width="178" height="179"/></g>
<rect x="138" y="1396" width="96" height="42" fill="none" stroke="#555" stroke-width="1.5"/>
<text x="155" y="1385" font-size="20" fill="#222" class="nar">LSK 2.8</text>
<g class="ct"><ellipse cx="111" cy="1446" rx="12" ry="50"/><ellipse cx="111" cy="1450" rx="8" ry="38"/><ellipse cx="111" cy="1470" rx="5" ry="20"/><ellipse cx="111" cy="1485" rx="14" ry="15"/><ellipse cx="203" cy="1496" rx="12" ry="8"/><ellipse cx="203" cy="1496" rx="7" ry="5"/></g>
<line x1="221" y1="1418" x2="268" y2="1418" stroke="#555" stroke-width="1.5"/><path d="M275,1418 l-9,-4 v8z" fill="#555"/>
<text transform="translate(33,1451) rotate(-90)" font-size="22" fill="#222" text-anchor="middle">CD117 APC</text>
<text x="60" y="1580" font-size="20" fill="#222" class="nar">Sca1 PECy7</text><line x1="190" y1="1574" x2="240" y2="1574" stroke="#777" stroke-width="2"/>
<rect x="341" y="1366" width="55" height="171" fill="none" stroke="#555" stroke-width="1.5"/>
<rect x="341" y="1484" width="148" height="53" fill="none" stroke="#555" stroke-width="1.5"/>
<text x="406" y="1385" font-size="20" fill="#222" class="nar">MPP4</text><text x="406" y="1407" font-size="20" fill="#222" class="nar">64.5</text>
<g class="ct"><ellipse cx="365" cy="1430" rx="14" ry="55"/><ellipse cx="365" cy="1435" rx="9" ry="42"/><ellipse cx="367" cy="1440" rx="5" ry="28"/><ellipse cx="400" cy="1495" rx="40" ry="14"/><ellipse cx="410" cy="1495" rx="25" ry="9"/></g>
<line x1="449" y1="1494" x2="572" y2="1405" stroke="#555" stroke-width="1.2"/><path d="M580,1400 l-10,1 l5,7z" fill="#555"/>
<text transform="translate(298,1451) rotate(-90)" font-size="22" fill="#222" text-anchor="middle">CD135 PE</text>
<text x="318" y="1580" font-size="20" fill="#222" class="nar">CD150 BV650</text><line x1="465" y1="1574" x2="762" y2="1574" stroke="#777" stroke-width="2"/>
<line x1="648" y1="1359" x2="648" y2="1538" stroke="#444" stroke-width="1.5"/><line x1="584" y1="1466" x2="762" y2="1466" stroke="#444" stroke-width="1.5"/>
<g class="ct"><ellipse cx="675" cy="1435" rx="35" ry="22"/><ellipse cx="675" cy="1435" rx="22" ry="13"/><ellipse cx="690" cy="1500" rx="28" ry="22"/><ellipse cx="690" cy="1500" rx="16" ry="12"/><ellipse cx="640" cy="1490" rx="12" ry="18"/></g>
<g font-size="20" fill="#222" class="nar"><text x="586" y="1382">MPP3</text><text x="586" y="1405">19.5</text><text x="696" y="1382">MPP2</text><text x="709" y="1405">31.2</text><text x="587" y="1505">9.6</text><text x="587" y="1530">HSC<tspan font-size="11" dy="-8">ST</tspan></text><text x="713" y="1505">39.7</text><text x="703" y="1530">HSC<tspan font-size="11" dy="-8">LT</tspan></text></g>
<text transform="translate(555,1451) rotate(-90)" font-size="22" fill="#222" text-anchor="middle">CD48 AF700</text>

<!-- ===== g ===== -->
<text class="lab" x="788" y="1318">g</text>
<text x="1340" y="1310" font-size="20" fill="#222" text-anchor="middle" class="nar">FACS quantification of LSK subsets</text>
<path class="ax" d="M898,1356 V1567 H1203"/>
<path d="M898,1361 h-5 M898,1398 h-5" stroke="#444" stroke-width="1.5"/>
<g font-size="19" fill="#222" text-anchor="end" class="nar"><text x="890" y="1367">100</text><text x="890" y="1423">20</text><text x="890" y="1461">15</text><text x="890" y="1498">10</text><text x="890" y="1536">5</text><text x="890" y="1573">0</text></g>
<g stroke="#444" stroke-width="1.5"><line x1="893" y1="1417" x2="898" y2="1417"/><line x1="893" y1="1455" x2="898" y2="1455"/><line x1="893" y1="1492" x2="898" y2="1492"/><line x1="893" y1="1530" x2="898" y2="1530"/><line x1="925" y1="1567" x2="925" y2="1573"/><line x1="987" y1="1567" x2="987" y2="1573"/><line x1="1051" y1="1567" x2="1051" y2="1573"/><line x1="1116" y1="1567" x2="1116" y2="1573"/><line x1="1180" y1="1567" x2="1180" y2="1573"/></g>
<text transform="translate(843,1475) rotate(-90)" font-size="22" fill="#222" text-anchor="middle">% of cells among LSK</text>
<g font-size="19" fill="#222" font-style="italic" text-anchor="end" class="nar">
<text transform="translate(930,1588) rotate(-50)">HSC<tspan font-size="11" dy="-8">LT</tspan></text><text transform="translate(992,1588) rotate(-50)">HSC<tspan font-size="11" dy="-8">ST</tspan></text><text transform="translate(1056,1588) rotate(-50)">MPP2</text><text transform="translate(1121,1588) rotate(-50)">MPP3</text><text transform="translate(1185,1588) rotate(-50)">MPP4</text></g>
<g font-size="19" fill="#222" class="nar" text-anchor="middle"><text x="941" y="1437">0.0008</text><text x="990" y="1505">0.0023</text><text x="1113" y="1457">0.0001</text></g>
<g stroke="#333" stroke-width="2"><line x1="920" y1="1447" x2="945" y2="1447"/><line x1="980" y1="1514" x2="1003" y2="1514"/><line x1="1105" y1="1469" x2="1128" y2="1469"/></g>
<g>
<circle class="g" cx="910" cy="1500" r="8"/><circle class="g" cx="910" cy="1492" r="8"/><circle class="g" cx="910" cy="1485" r="8"/><circle class="g" cx="910" cy="1477" r="8"/><circle class="g" cx="910" cy="1470" r="8"/><circle class="g" cx="910" cy="1462" r="8"/>
<circle class="o" cx="937" cy="1530" r="8"/><circle class="o" cx="937" cy="1522" r="8"/><circle class="o" cx="937" cy="1515" r="8"/><circle class="o" cx="937" cy="1507" r="8"/><circle class="o" cx="937" cy="1500" r="8"/>
<circle class="g" cx="975" cy="1556" r="8"/><circle class="g" cx="975" cy="1548" r="8"/><circle class="g" cx="975" cy="1537" r="8"/>
<circle class="o" cx="1000" cy="1563" r="8"/><circle class="o" cx="1000" cy="1556" r="8"/><circle class="o" cx="1000" cy="1545" r="8"/>
<circle class="g" cx="1040" cy="1537" r="8"/><circle class="g" cx="1040" cy="1530" r="8"/><circle class="g" cx="1040" cy="1522" r="8"/>
<circle class="o" cx="1063" cy="1533" r="8"/><circle class="o" cx="1063" cy="1526" r="8"/><circle class="o" cx="1063" cy="1518" r="8"/><circle class="o" cx="1063" cy="1511" r="8"/><circle class="o" cx="1063" cy="1503" r="8"/>
<circle class="g" cx="1104" cy="1537" r="8"/><circle class="g" cx="1104" cy="1530" r="8"/><circle class="g" cx="1104" cy="1522" r="8"/>
<circle class="o" cx="1127" cy="1522" r="8"/><circle class="o" cx="1127" cy="1515" r="8"/><circle class="o" cx="1127" cy="1507" r="8"/><circle class="o" cx="1127" cy="1500" r="8"/>
<circle class="g" cx="1168" cy="1375" r="9"/><circle class="o" cx="1190" cy="1375" r="9"/>
<circle class="g" cx="1252" cy="1360" r="9"/><circle class="o" cx="1252" cy="1391" r="9"/></g>
<g font-size="20" fill="#222" class="nar"><text x="1270" y="1367">Tumor-free</text><text x="1270" y="1398">Py230</text></g>
<path class="ax" d="M1482,1355 V1570 H1801"/>
<g font-size="19" fill="#222" text-anchor="end" class="nar"><text x="1475" y="1366">40</text><text x="1475" y="1419">30</text><text x="1475" y="1471">20</text><text x="1475" y="1524">10</text><text x="1475" y="1576">0</text></g>
<text transform="translate(1434,1465) rotate(-90)" font-size="22" fill="#222" text-anchor="middle">% of cells among LSK</text>
<g font-size="19" fill="#222" font-style="italic" text-anchor="end" class="nar">
<text transform="translate(1515,1590) rotate(-50)">HSC<tspan font-size="11" dy="-8">LT</tspan></text><text transform="translate(1581,1590) rotate(-50)">HSC<tspan font-size="11" dy="-8">ST</tspan></text><text transform="translate(1646,1590) rotate(-50)">MPP2</text><text transform="translate(1712,1590) rotate(-50)">MPP3</text><text transform="translate(1779,1590) rotate(-50)">MPP4</text></g>
<g font-size="19" fill="#222" class="nar" text-anchor="middle"><text x="1522" y="1357">0.0005</text><text x="1580" y="1387">0.0361</text><text x="1707" y="1357">0.0012</text></g>
<g stroke="#333" stroke-width="2"><line x1="1500" y1="1368" x2="1524" y2="1368"/><line x1="1566" y1="1399" x2="1590" y2="1399"/><line x1="1695" y1="1368" x2="1719" y2="1368"/></g>
<g>
<circle class="g" cx="1498" cy="1428" r="8"/><circle class="g" cx="1498" cy="1417" r="8"/><circle class="g" cx="1498" cy="1407" r="8"/>
<circle class="gr" cx="1525" cy="1501" r="8"/><circle class="gr" cx="1525" cy="1488" r="8"/><circle class="gr" cx="1525" cy="1475" r="8"/><circle class="gr" cx="1525" cy="1461" r="8"/><circle class="gr" cx="1525" cy="1444" r="8"/>
<circle class="g" cx="1563" cy="1459" r="8"/><circle class="g" cx="1563" cy="1447" r="8"/><circle class="g" cx="1563" cy="1435" r="8"/><circle class="g" cx="1563" cy="1422" r="8"/>
<circle class="gr" cx="1590" cy="1512" r="8"/><circle class="gr" cx="1590" cy="1480" r="8"/><circle class="gr" cx="1590" cy="1465" r="8"/><circle class="gr" cx="1590" cy="1450" r="8"/>
<circle class="g" cx="1628" cy="1526" r="8"/><circle class="g" cx="1628" cy="1514" r="8"/><circle class="g" cx="1628" cy="1503" r="8"/>
<circle class="gr" cx="1655" cy="1522" r="8"/><circle class="gr" cx="1655" cy="1510" r="8"/><circle class="gr" cx="1655" cy="1497" r="8"/>
<circle class="g" cx="1695" cy="1496" r="8"/><circle class="g" cx="1695" cy="1484" r="8"/><circle class="g" cx="1695" cy="1472" r="8"/>
<circle class="gr" cx="1720" cy="1459" r="8"/><circle class="gr" cx="1720" cy="1428" r="8"/><circle class="gr" cx="1720" cy="1402" r="8"/>
<circle class="g" cx="1762" cy="1522" r="8"/><circle class="g" cx="1762" cy="1501" r="8"/><circle class="g" cx="1762" cy="1486" r="8"/><circle class="g" cx="1762" cy="1449" r="8"/><circle class="g" cx="1762" cy="1436" r="8"/>
<circle class="gr" cx="1787" cy="1491" r="8"/><circle class="gr" cx="1787" cy="1475" r="8"/><circle class="gr" cx="1787" cy="1462" r="8"/><circle class="gr" cx="1787" cy="1446" r="8"/><circle class="gr" cx="1787" cy="1402" r="8"/>
<circle class="g" cx="1859" cy="1377" r="9"/><circle class="gr" cx="1859" cy="1410" r="9"/></g>
<g font-size="20" fill="#222" class="nar"><text x="1877" y="1384">WT</text><text x="1877" y="1417">Neu</text></g>

<!-- ===== h ===== -->
<text class="lab" x="24" y="1718">h</text>
<path class="ax" d="M129,1752 V1964 H342"/>
<g font-size="19" fill="#222" text-anchor="end" class="nar"><text x="123" y="1760">100</text><text x="123" y="1801">80</text><text x="123" y="1843">60</text><text x="123" y="1885">40</text><text x="123" y="1927">20</text><text x="123" y="1970">0</text></g>
<text transform="translate(75,1872) rotate(-90)" font-size="22" fill="#222" text-anchor="middle">% among HSC<tspan font-size="13" dy="-8">LT</tspan></text>
<g font-size="19" fill="#222" class="nar" text-anchor="middle"><text x="172" y="1808">0.0427</text><text x="291" y="1765">0.0427</text></g>
<g stroke="#333" stroke-width="2"><line x1="160" y1="1819" x2="184" y2="1819"/><line x1="281" y1="1776" x2="304" y2="1776"/></g>
<g><circle class="g" cx="154" cy="1857" r="9"/><circle class="g" cx="164" cy="1880" r="9"/><circle class="g" cx="154" cy="1895" r="9"/>
<circle class="o" cx="197" cy="1907" r="9"/><circle class="o" cx="190" cy="1926" r="9"/><circle class="o" cx="204" cy="1926" r="9"/>
<circle class="g" cx="272" cy="1842" r="9"/><circle class="g" cx="282" cy="1867" r="9"/><circle class="g" cx="276" cy="1890" r="9"/>
<circle class="o" cx="313" cy="1800" r="9"/><circle class="o" cx="320" cy="1815" r="9"/><circle class="o" cx="322" cy="1796" r="9"/></g>
<g font-size="19" fill="#222" font-style="italic" text-anchor="end" class="nar"><text transform="translate(180,1985) rotate(-50)">Quiescent</text><text transform="translate(196,1996) rotate(-50)">(TMRE<tspan font-size="11" dy="-8">low</tspan><tspan dy="8">)</tspan></text><text transform="translate(296,1985) rotate(-50)">Active</text><text transform="translate(312,1996) rotate(-50)">(TMRE<tspan font-size="11" dy="-8">High</tspan><tspan dy="8">)</tspan></text></g>
<path class="ax" d="M531,1752 V1964 H744"/>
<g font-size="19" fill="#222" text-anchor="end" class="nar"><text x="525" y="1760">4x10<tspan font-size="10" dy="-8">4</tspan></text><text x="525" y="1812">3x10<tspan font-size="10" dy="-8">4</tspan></text><text x="525" y="1865">2x10<tspan font-size="10" dy="-8">4</tspan></text><text x="525" y="1917">1x10<tspan font-size="10" dy="-8">4</tspan></text><text x="525" y="1970">0</text></g>
<text transform="translate(443,1858) rotate(-90)" font-size="22" fill="#222" text-anchor="middle">Number of HSC<tspan font-size="13" dy="-8">LT</tspan></text>
<text x="697" y="1756" font-size="19" fill="#222" class="nar" text-anchor="middle">0.0063</text><line x1="686" y1="1766" x2="709" y2="1766" stroke="#333" stroke-width="2"/>
<g><circle class="g" cx="548" cy="1911" r="9"/><circle class="g" cx="555" cy="1943" r="9"/><circle class="g" cx="560" cy="1918" r="9"/>
<circle class="o" cx="595" cy="1914" r="9"/><circle class="o" cx="604" cy="1922" r="9"/><circle class="o" cx="598" cy="1932" r="9"/>
<circle class="g" cx="670" cy="1890" r="9"/><circle class="g" cx="665" cy="1928" r="9"/><circle class="g" cx="676" cy="1918" r="9"/>
<circle class="o" cx="721" cy="1791" r="9"/><circle class="o" cx="715" cy="1822" r="9"/><circle class="o" cx="721" cy="1854" r="9"/></g>
<g font-size="19" fill="#222" font-style="italic" text-anchor="end" class="nar"><text transform="translate(578,1985) rotate(-50)">Quiescent</text><text transform="translate(594,1996) rotate(-50)">(TMRE<tspan font-size="11" dy="-8">low</tspan><tspan dy="8">)</tspan></text><text transform="translate(706,1985) rotate(-50)">Active</text><text transform="translate(722,1996) rotate(-50)">(TMRE<tspan font-size="11" dy="-8">High</tspan><tspan dy="8">)</tspan></text></g>
<circle class="g" cx="805" cy="1769" r="9"/><circle class="o" cx="805" cy="1800" r="9"/>
<g font-size="20" fill="#222" class="nar"><text x="826" y="1776">Tumor-free</text><text x="826" y="1807">Py230</text></g>

<!-- ===== i ===== -->
<text class="lab" x="1058" y="1718">i</text>
<text x="1221" y="1750" font-size="19" fill="#222" text-anchor="middle" class="nar">Cell cycle phases</text>
<path d="M1085,1800 C1120,1775 1180,1770 1220,1780 C1280,1790 1330,1810 1345,1850 C1355,1880 1350,1910 1335,1920 C1300,1925 1270,1930 1250,1950 C1245,1975 1245,1985 1240,1990 C1230,1975 1230,1960 1225,1955 C1180,1968 1140,1975 1110,1960 C1080,1940 1070,1880 1072,1840 C1074,1820 1078,1808 1085,1800Z" fill="#d3d3d3"/>
<path d="M1095,1795 C1120,1780 1140,1776 1148,1780 C1158,1820 1170,1870 1168,1960 C1140,1972 1115,1968 1100,1955 C1080,1930 1070,1880 1072,1840 C1074,1820 1085,1805 1095,1795Z" fill="#1a6ab0"/>
<path d="M1148,1780 C1160,1790 1172,1830 1180,1870 C1185,1910 1182,1945 1170,1960 C1170,1900 1160,1830 1148,1780Z" fill="#d8a8d8"/>
<ellipse cx="1131" cy="1872" rx="61" ry="97" fill="none" stroke="#555" stroke-width="1.5"/>
<line x1="1180" y1="1910" x2="1460" y2="1910" stroke="#333" stroke-width="2" stroke-dasharray="3,3"/><path d="M1469,1910 l-10,-5 v10z" fill="#333"/>
<circle cx="1389" cy="1769" r="7" fill="#d3d3d3"/><circle cx="1389" cy="1798" r="7" fill="#1a6ab0"/><circle cx="1389" cy="1826" r="7" fill="#d8a8d8"/>
<g font-size="19" fill="#222" class="nar"><text x="1412" y="1776">G1</text><text x="1412" y="1805">G2M</text><text x="1412" y="1833">S</text></g>
<g stroke="#333" stroke-width="2" fill="none"><path d="M1057,1994 V1944"/><path d="M1057,1994 H1118"/></g>
<path d="M1057,1938 l-5,10 h10z M1125,1994 l-10,-5 v10z" fill="#333"/>
<text transform="translate(1048,1994) rotate(-90)" font-size="15" fill="#333">UMAP2</text>
<text x="1063" y="2015" font-size="15" fill="#333">UMAP1</text>
<text x="1629" y="1750" font-size="19" fill="#222" text-anchor="middle" class="nar">Cycling cells</text>
<path d="M1530,1810 C1560,1800 1600,1790 1640,1795 C1670,1785 1690,1780 1700,1790 C1712,1830 1730,1860 1734,1900 C1732,1940 1720,1958 1690,1962 C1630,1966 1560,1966 1515,1960 C1510,1920 1512,1860 1530,1810Z" fill="url(#bdots)"/>
<circle cx="1789" cy="1769" r="7" fill="#a8a8a8"/><circle cx="1789" cy="1799" r="7" fill="#4a90d9"/>
<g font-size="19" fill="#222" class="nar"><text x="1812" y="1776">WT</text><text x="1812" y="1806">PyMT</text></g>

<!-- ===== j ===== -->
<text class="lab" x="14" y="2172">j</text>
<g font-size="17" font-weight="bold" fill="#222" text-anchor="middle"><text x="154" y="2216">Pia_MPP21</text><text x="467" y="2216">Pia_MPP31</text><text x="787" y="2216">Pia_MPP41</text></g>
<g transform="translate(61,2256) scale(1.03,1.0)"><use href="#sq" fill="url(#j1g)"/><use href="#sq" fill="url(#speck)"/></g>
<g transform="translate(369,2254) scale(1.09,0.98)"><use href="#sq" fill="url(#j2g)"/><use href="#sq" fill="url(#speck)"/></g>
<g transform="translate(698,2256) scale(1.04,0.99)"><use href="#sq" fill="url(#j3g)"/><use href="#sq" fill="url(#speck)"/></g>
<rect x="280" y="2316" width="15" height="96" fill="url(#grbar)"/><rect x="594" y="2312" width="15" height="95" fill="url(#grbar)"/><rect x="916" y="2312" width="15" height="95" fill="url(#grbar)"/>
<g font-size="13" fill="#444"><text x="304" y="2342">0.44</text><text x="304" y="2370">0.40</text><text x="304" y="2398">0.36</text>
<text x="618" y="2330">0.40</text><text x="618" y="2352">0.35</text><text x="618" y="2374">0.30</text><text x="618" y="2395">0.25</text>
<text x="940" y="2340">0.15</text><text x="940" y="2365">0.10</text><text x="940" y="2390">0.05</text></g>
<g stroke="#333" stroke-width="2" fill="none"><path d="M25,2498 V2443"/><path d="M25,2498 H82"/></g>
<path d="M25,2436 l-5,10 h10z M89,2498 l-10,-5 v10z" fill="#333"/>
<text transform="translate(15,2500) rotate(-90)" font-size="15" fill="#333">UMAP2</text>
<text x="26" y="2522" font-size="15" fill="#333">UMAP1</text>

<!-- ===== k ===== -->
<text class="lab" x="920" y="2160">k</text>
<g font-size="19" fill="#222" text-anchor="middle" class="nar"><text x="1131" y="2155">Densitiy plot of cycling cells</text><text x="1131" y="2181">(Normalized cell number)</text></g>
<g clip-path="url(#kwt)"><rect x="1010" y="2200" width="240" height="220" fill="#4a6cc8"/>
<g filter="url(#blur)"><ellipse cx="1120" cy="2310" rx="80" ry="90" fill="#88c088"/><ellipse cx="1200" cy="2320" rx="30" ry="60" fill="#a8c860"/><ellipse cx="1140" cy="2300" rx="35" ry="70" fill="#f0c040"/><ellipse cx="1145" cy="2290" rx="18" ry="45" fill="#e84020"/><ellipse cx="1150" cy="2375" rx="22" ry="20" fill="#e84020"/><ellipse cx="1090" cy="2260" rx="25" ry="25" fill="#e8d040"/></g></g>
<text x="1020" y="2232" font-size="19" fill="#222" class="nar">WT</text>
<g clip-path="url(#kpy)"><rect x="1010" y="2440" width="240" height="220" fill="#4a6cc8"/>
<g filter="url(#blur)"><ellipse cx="1110" cy="2555" rx="95" ry="85" fill="#9ac080"/><ellipse cx="1060" cy="2580" rx="40" ry="65" fill="#f0c040"/><ellipse cx="1045" cy="2560" rx="16" ry="20" fill="#e84020"/><ellipse cx="1065" cy="2610" rx="22" ry="22" fill="#e84020"/><ellipse cx="1170" cy="2520" rx="25" ry="35" fill="#e8d040"/></g></g>
<text x="1020" y="2462" font-size="19" fill="#222" class="nar">PyMT</text>
<rect x="1144" y="2668" width="86" height="18" fill="url(#lvg)"/>
<text x="1106" y="2690" font-size="9" fill="#555">level</text>
<g font-size="8" fill="#555" text-anchor="middle"><text x="1164" y="2698">0.01</text><text x="1195" y="2698">0.02</text><text x="1226" y="2698">0.03</text></g>
<g stroke="#333" stroke-width="2" fill="none"><path d="M990,2677 V2628"/><path d="M990,2677 H1048"/></g>
<path d="M990,2622 l-5,10 h10z M1055,2677 l-10,-5 v10z" fill="#333"/>
<text transform="translate(982,2680) rotate(-90)" font-size="15" fill="#333">UMAP2</text>
<text x="996" y="2702" font-size="15" fill="#333">UMAP1</text>

<!-- ===== l ===== -->
<text class="lab" x="1346" y="2172">l</text>
<text x="1605" y="2212" font-size="19" fill="#222" text-anchor="middle" class="nar">FACS quantification of cycling LSK subsets</text>
<path class="ax" d="M1457,2271 V2498 H1777"/>
<path d="M1457,2271 h-5 M1457,2313 h-5" stroke="#444" stroke-width="1.5"/>
<g font-size="19" fill="#222" text-anchor="end" class="nar"><text x="1448" y="2277">100</text><text x="1448" y="2340">30</text><text x="1448" y="2395">20</text><text x="1448" y="2450">10</text><text x="1448" y="2504">0</text></g>
<text transform="translate(1390,2402) rotate(-90)" font-size="22" fill="#222" text-anchor="middle">% among EdU<tspan font-size="13" dy="-8">+</tspan><tspan dy="8"> cycling LSK</tspan></text>
<g font-size="19" fill="#222" font-style="italic" text-anchor="end" class="nar">
<text transform="translate(1495,2518) rotate(-50)">HSC<tspan font-size="11" dy="-8">LT</tspan></text><text transform="translate(1560,2518) rotate(-50)">HSC<tspan font-size="11" dy="-8">ST</tspan></text><text transform="translate(1626,2518) rotate(-50)">MPP2</text><text transform="translate(1690,2518) rotate(-50)">MPP3</text><text transform="translate(1753,2518) rotate(-50)">MPP4</text></g>
<g font-size="19" fill="#222" class="nar" text-anchor="middle"><text x="1496" y="2367">0.0002</text><text x="1552" y="2427">&lt;0.0001</text><text x="1675" y="2303">0.0160</text></g>
<g stroke="#333" stroke-width="2"><line x1="1485" y1="2379" x2="1508" y2="2379"/><line x1="1541" y1="2438" x2="1564" y2="2438"/><line x1="1664" y1="2314" x2="1687" y2="2314"/></g>
<g>
<circle class="g" cx="1482" cy="2460" r="8"/><circle class="g" cx="1482" cy="2452" r="8"/><circle class="g" cx="1482" cy="2444" r="8"/><circle class="g" cx="1482" cy="2432" r="8"/>
<circle class="bl" cx="1508" cy="2476" r="8"/><circle class="bl" cx="1508" cy="2468" r="8"/>
<circle class="g" cx="1546" cy="2471" r="8"/><circle class="g" cx="1546" cy="2463" r="8"/>
<circle class="bl" cx="1570" cy="2495" r="8"/><circle class="bl" cx="1570" cy="2487" r="8"/><circle class="bl" cx="1570" cy="2481" r="8"/>
<circle class="g" cx="1608" cy="2476" r="8"/><circle class="g" cx="1608" cy="2465" r="8"/><circle class="g" cx="1608" cy="2458" r="8"/>
<circle class="bl" cx="1634" cy="2476" r="8"/><circle class="bl" cx="1634" cy="2465" r="8"/><circle class="bl" cx="1634" cy="2454" r="8"/>
<circle class="g" cx="1672" cy="2438" r="8"/><circle class="g" cx="1672" cy="2427" r="8"/><circle class="g" cx="1672" cy="2410" r="8"/><circle class="g" cx="1672" cy="2389" r="8"/>
<circle class="bl" cx="1700" cy="2405" r="8"/><circle class="bl" cx="1700" cy="2389" r="8"/><circle class="bl" cx="1700" cy="2372" r="8"/><circle class="bl" cx="1700" cy="2359" r="8"/>
<circle class="g" cx="1734" cy="2293" r="9"/><circle class="bl" cx="1758" cy="2293" r="9"/>
<circle class="g" cx="1820" cy="2270" r="9"/><circle class="bl" cx="1820" cy="2300" r="9"/></g>
<g font-size="20" fill="#222" class="nar"><text x="1840" y="2277">WT</text><text x="1840" y="2307">PyMT</text></g>
</svg>
</body></html>
